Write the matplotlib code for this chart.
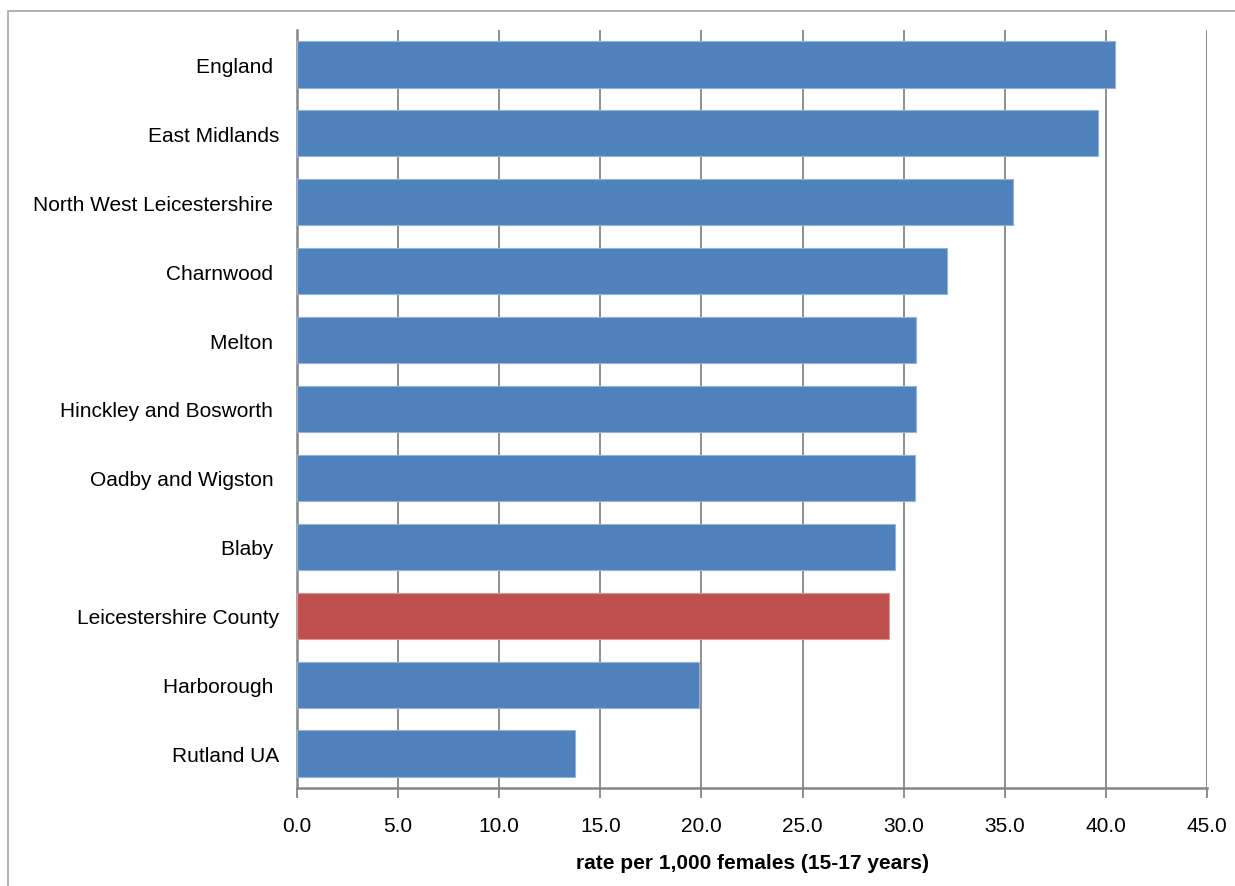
import matplotlib.pyplot as plt
from matplotlib.patches import Rectangle

plt.rcParams['font.family'] = ['Liberation Sans', 'DejaVu Sans']

# areas, top to bottom
areas = ["England ", "East Midlands", "North West Leicestershire ", "Charnwood ",
         "Melton ", "Hinckley and Bosworth ", "Oadby and Wigston ", "Blaby ",
         "Leicestershire County", "Harborough ", "Rutland UA"]
rates = [40.45, 39.6, 35.4, 32.15, 30.6, 30.6, 30.55, 29.55, 29.25, 19.9, 13.75]
highlight = "Leicestershire County"
x_ticks = [0, 5, 10, 15, 20, 25, 30, 35, 40, 45]

BLUE = "#4F81BD"
RED = "#C0504D"
GRID = "#868686"

fig = plt.figure(figsize=(12.35, 8.87), dpi=100)
ax = fig.add_axes([297/1235, 1 - 789/887, 910/1235, 758/887])

# chart area frame, running off the right and bottom edges
fig.patches.append(Rectangle((8/1235, -0.05), 1.1, 1.05 - 12/887, transform=fig.transFigure,
                             fill=False, edgecolor="#A6A6A6", linewidth=1.2))

colors = [RED if a.strip() == highlight else BLUE for a in areas]
edges = ["#D99694" if a.strip() == highlight else "#95B3D7" for a in areas]
ypos = list(range(len(areas)))
ax.barh(ypos, rates, height=0.67, color=colors, edgecolor=edges, linewidth=0.8, zorder=3)

ax.set_ylim(len(areas) - 0.5, -0.5)
ax.set_xlim(0, 45)
ax.set_xticks(x_ticks)
ax.set_xticklabels([f"{t:.1f}" for t in x_ticks], fontsize=15)
ax.set_yticks(ypos)
ax.set_yticklabels(areas, fontsize=15)

ax.grid(axis="x", color=GRID, linewidth=1.3, zorder=0)
ax.tick_params(axis="y", length=0, pad=13)
ax.tick_params(axis="x", length=7, width=1.3, color=GRID, pad=13)

for side in ["top", "right"]:
    ax.spines[side].set_visible(False)
for side in ["left", "bottom"]:
    ax.spines[side].set_color(GRID)
    ax.spines[side].set_linewidth(1.8)

ax.set_xlabel("rate per 1,000 females (15-17 years)", fontsize=15, fontweight="bold", labelpad=13)

fig.savefig("out.png", dpi=100)
